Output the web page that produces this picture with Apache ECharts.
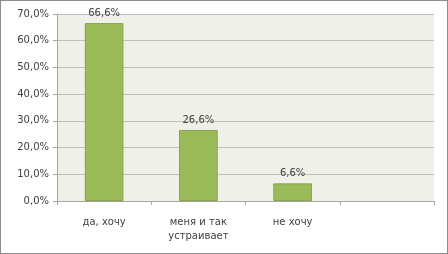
<!DOCTYPE html>
<html>
<head>
<meta charset="utf-8">
<script src="https://cdn.jsdelivr.net/npm/echarts@6/dist/echarts.min.js"></script>
<style>
  html, body { margin: 0; padding: 0; background: #fff; }
  #chart { width: 448px; height: 254px; box-sizing: border-box; border: 1px solid #8c8c8c; }
</style>
</head>
<body>
<div id="chart"></div>
<script>
// данные диаграммы
var categories = ['да, хочу', 'меня и так\nустраивает', 'не хочу', ''];
var values = [66.6, 26.6, 6.6, null];
var yTicks = [0, 10, 20, 30, 40, 50, 60, 70];

function pct(v) {
  return v.toFixed(1).replace('.', ',') + '%';
}

var myChart = echarts.init(document.getElementById('chart'));
myChart.setOption({
  animation: false,
  textStyle: { fontFamily: 'DejaVu Sans' },
  grid: {
    left: 56, right: 13, top: 13, bottom: 52,
    show: true, backgroundColor: '#eff1e8', borderWidth: 0
  },
  xAxis: {
    type: 'category',
    data: categories,
    axisLine: { lineStyle: { color: '#a6a6a6' } },
    axisTick: { show: true, length: 4, lineStyle: { color: '#a6a6a6' } },
    axisLabel: { interval: 0, color: '#404040', fontSize: 10, margin: 14, lineHeight: 14 }
  },
  yAxis: {
    type: 'value',
    min: yTicks[0],
    max: yTicks[yTicks.length - 1],
    interval: 10,
    axisLine: { show: true, lineStyle: { color: '#a6a6a6' } },
    axisTick: { show: true, length: 4, lineStyle: { color: '#a6a6a6' } },
    splitLine: { lineStyle: { color: '#bfbfbf', width: 1 } },
    axisLabel: { color: '#404040', fontSize: 10, margin: 8, formatter: pct }
  },
  series: [{
    type: 'bar',
    data: values,
    barWidth: '41%',
    itemStyle: { color: '#9bbb59', borderColor: '#86a44a', borderWidth: 1 },
    label: {
      show: true, position: 'top', distance: 5,
      color: '#404040', fontSize: 10,
      formatter: function (p) { return p.value == null ? '' : pct(p.value); }
    }
  }]
});
</script>
</body>
</html>
